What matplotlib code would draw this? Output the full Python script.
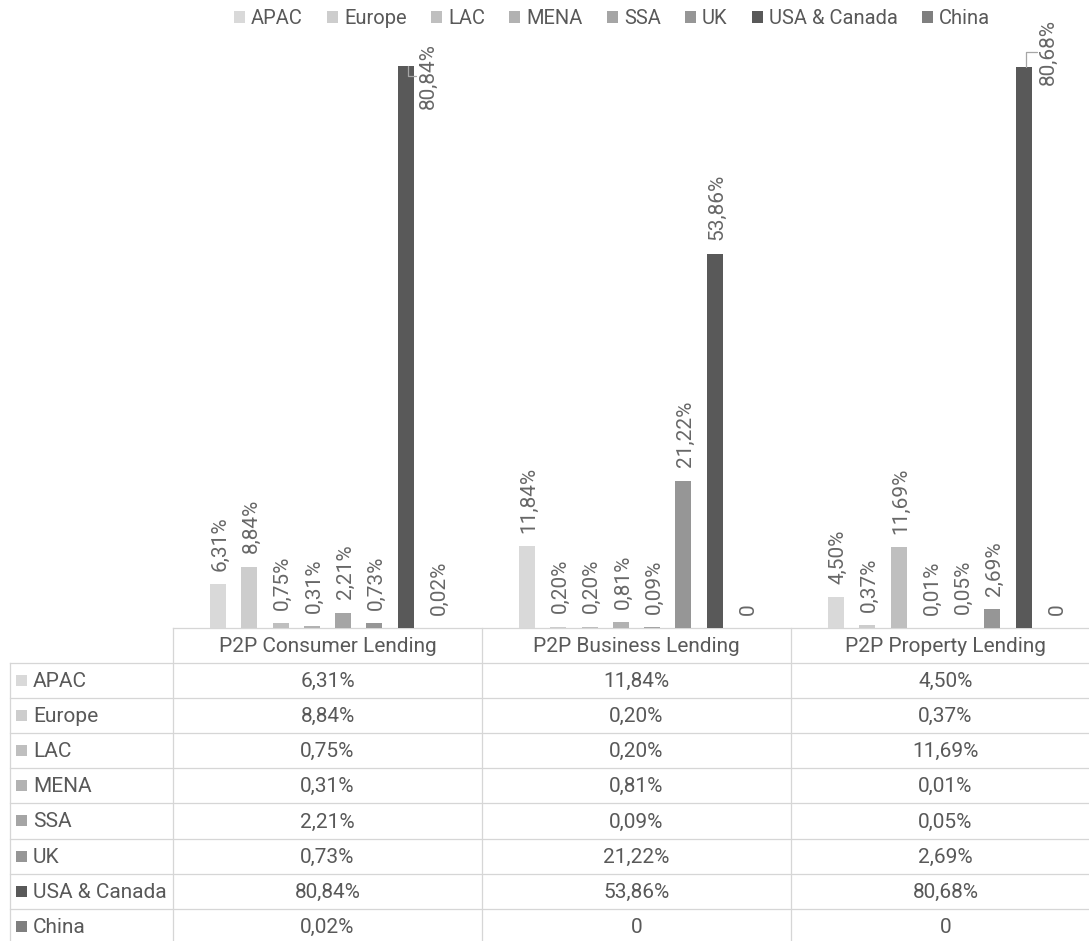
import matplotlib
matplotlib.use("Agg")
import matplotlib.pyplot as plt
from matplotlib.patches import Patch, Rectangle
import matplotlib.transforms as mtransforms

plt.rcParams['font.family'] = ['Roboto', 'DejaVu Sans']

# ---------------- data ----------------
categories = ["P2P Consumer Lending", "P2P Business Lending", "P2P Property Lending"]
regions = ["APAC", "Europe", "LAC", "MENA", "SSA", "UK", "USA & Canada", "China"]
apac = [6.31, 11.84, 4.50]
europe = [8.84, 0.20, 0.37]
lac = [0.75, 0.20, 11.69]
mena = [0.31, 0.81, 0.01]
ssa = [2.21, 0.09, 0.05]
uk = [0.73, 21.22, 2.69]
usa_canada = [80.84, 53.86, 80.68]
china = [0.02, 0.0, 0.0]
series = [apac, europe, lac, mena, ssa, uk, usa_canada, china]

colors = ["#d9d9d9", "#cdcdcd", "#bfbfbf", "#b2b2b2", "#a5a5a5", "#969696", "#595959", "#7f7f7f"]
TEXT = "#595959"
LABEL = "#676767"
GRID = "#d6d6d6"
FS = 15
FS_LEG = 14.5

def fmt(v):
    if v == 0:
        return "0"
    return f"{v:.2f}".replace(".", ",") + "%"

W, H = 1089, 941
fig = plt.figure(figsize=(W / 100, H / 100), dpi=100)

# pixel geometry
ax_left, ax_right, ax_top, ax_bottom = 173, 1100, 40, 628
px_per_pct = 6.95

ax = fig.add_axes([ax_left / W, 1 - ax_bottom / H, (ax_right - ax_left) / W, (ax_bottom - ax_top) / H])
ax.set_xlim(-0.5, 2.5)
ax.set_ylim(0, (ax_bottom - ax_top) / px_per_pct)
ax.axis("off")

# overlay axes in pixel coordinates for the data table
tax = fig.add_axes([0, 0, 1, 1], zorder=-1)
tax.set_xlim(0, W)
tax.set_ylim(H, 0)
tax.axis("off")

slot = 0.1013
bw = 0.052
n = len(series)

# label style offsets for the two labels that were moved beside the bar (points)
side_offsets = {(0, 6): (16, -7), (2, 6): (18, 11)}

for j, (vals, col) in enumerate(zip(series, colors)):
    xs = [i + (j - (n - 1) / 2) * slot for i in range(len(categories))]
    ax.bar(xs, vals, width=bw, color=col, linewidth=0, zorder=2)
    for i, (x, v) in enumerate(zip(xs, vals)):
        if (i, j) in side_offsets:
            dx, dy = side_offsets[(i, j)]
            ax.annotate(fmt(v), xy=(x, v), xytext=(dx, dy), textcoords="offset points",
                        rotation=90, ha="center", va="center", fontsize=FS,
                        color=LABEL, zorder=3, annotation_clip=False)
            # leader line
            ax.annotate("", xy=(x + 0.006, v), xycoords="data",
                        xytext=(dx - 10, dy), textcoords="offset points",
                        arrowprops=dict(arrowstyle="-", color="#a6a6a6", lw=0.9,
                                        connectionstyle="angle,angleA=0,angleB=90,rad=0",
                                        shrinkA=0, shrinkB=0),
                        annotation_clip=False, zorder=4)
        else:
            ax.annotate(fmt(v), xy=(x, v), xytext=(1.5, 9.5), textcoords="offset points",
                        rotation=90, ha="center", va="bottom", fontsize=FS,
                        color=LABEL, zorder=3)

# ---------------- legend ----------------
handles = [Patch(facecolor=c, edgecolor="none") for c in colors]
fig.legend(handles, regions, ncol=n, loc="center", bbox_to_anchor=(612 / W, 1 - 19 / H),
           frameon=False, fontsize=FS_LEG, handlelength=0.55, handleheight=0.55,
           handletextpad=0.3, columnspacing=1.2, labelcolor=TEXT, borderpad=0)

# ---------------- data table ----------------
trans = mtransforms.blended_transform_factory(ax.transData, tax.transData)
hdr_top, hdr_bot = 628, 663
row_h = 35.1
tbl_left = 10
n_rows = len(regions)
tbl_bot = hdr_bot + row_h * n_rows

tax.plot([-0.5, 2.5], [hdr_top, hdr_top], color=GRID, lw=0.9, transform=trans, clip_on=False)
for k in range(len(categories) + 1):
    tax.plot([k - 0.5, k - 0.5], [hdr_top, tbl_bot], color=GRID, lw=0.9, transform=trans, clip_on=False)
tax.plot([tbl_left, tbl_left], [hdr_bot, tbl_bot], color=GRID, lw=0.9, clip_on=False)
for r in range(n_rows + 1):
    y = hdr_bot + r * row_h
    tax.plot([tbl_left, W + 20], [y, y], color=GRID, lw=0.9, clip_on=False)

for i, cat in enumerate(categories):
    tax.text(i, (hdr_top + hdr_bot) / 2 + 1, cat, transform=trans, ha="center", va="center",
             fontsize=FS, color=TEXT)

for r, (reg, vals, col) in enumerate(zip(regions, series, colors)):
    yc = hdr_bot + r * row_h + row_h / 2
    tax.add_patch(Rectangle((16, yc - 5.5), 11, 11, facecolor=col, edgecolor="none"))
    tax.text(33, yc + 1, reg, ha="left", va="center", fontsize=FS, color=TEXT)
    for i, v in enumerate(vals):
        tax.text(i, yc + 1, fmt(v), transform=trans, ha="center", va="center",
                 fontsize=FS, color=TEXT)

fig.savefig("out.png", dpi=100)
